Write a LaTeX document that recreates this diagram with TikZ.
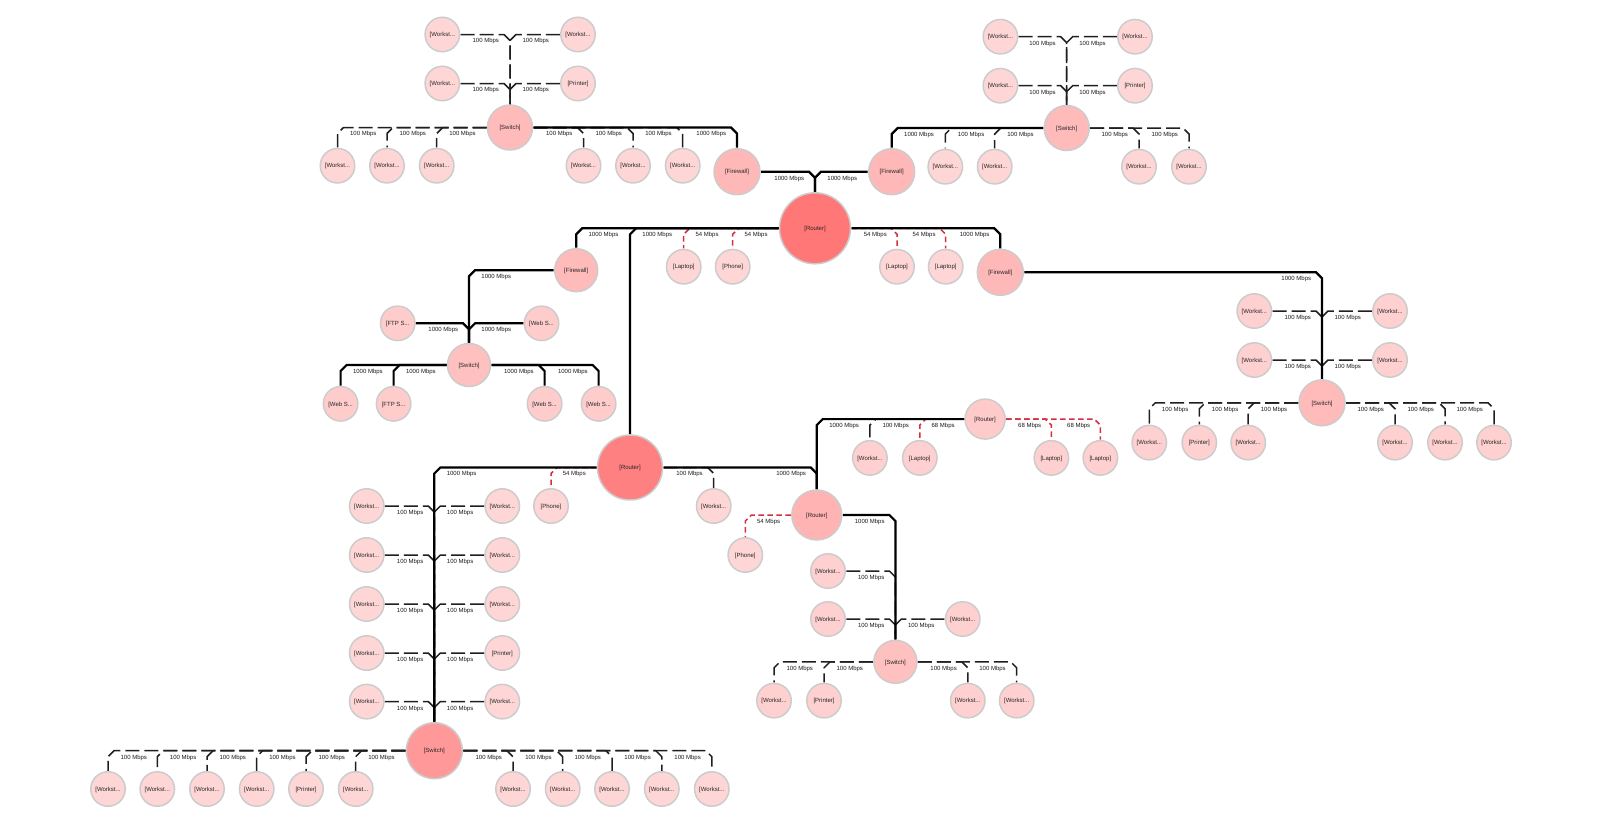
\documentclass[tikz,border=0pt]{standalone}
\usepackage{fontspec}
\setmainfont{Liberation Sans}
\usetikzlibrary{calc}
\definecolor{leaf}{HTML}{FFD6D6}
\definecolor{leafb}{HTML}{FFD0D0}
\definecolor{leafc}{HTML}{FFCCCC}
\definecolor{swc}{HTML}{FFBABA}
\definecolor{swd}{HTML}{FFC0C0}
\definecolor{fwc}{HTML}{FFB8B8}
\definecolor{rmain}{HTML}{FF7777}
\definecolor{rtwo}{HTML}{FF8080}
\definecolor{swbig}{HTML}{FF9999}
\definecolor{rthree}{HTML}{FFB3B3}
\definecolor{rfour}{HTML}{FFCACA}
\definecolor{edge}{HTML}{CCCCCC}
\definecolor{redl}{HTML}{D32F3F}
\newcounter{lblno}
\tikzset{
  dev/.style={circle,draw=edge,line width=1.5pt,inner sep=0pt,outer sep=1pt,text=black!85,text height=5.8pt,text depth=1.3pt,font=\fontsize{6}{7}\selectfont},
  lf/.style={dev,fill=leaf,minimum size=34.5pt},
  lfb/.style={dev,fill=leafb,minimum size=34.5pt},
  lfc/.style={dev,fill=leafc,minimum size=34.5pt},
  lab/.style={inner sep=0pt,text=black!90,font=\fontsize{6}{7}\selectfont},
  fastl/.style={black!88,line width=1.5pt,dash pattern=on 14pt off 5pt},
  gigl/.style={black,line width=2.2pt,line join=miter},
  redlink/.style={redl,line width=1.5pt,dash pattern=on 5.5pt off 3.5pt},
}
\newcommand\conn[6]{%
  \draw[#4] (#1) -- ($(#1 -| #2)+({#3*6},0)$) -- ($(#1 -| #2)+(0,6)$) -- (#2);
  \stepcounter{lblno}%
  \node[lab] (lbl\arabic{lblno}) at ($(#1 -| #2)+({#3*#6+0.8},6.9)$) {#5};
}
\newcommand\hund[3]{\conn{#1}{#2}{#3}{fastl}{100 Mbps}{25}}
\newcommand\gig[3]{\conn{#1}{#2}{#3}{gigl}{1000 Mbps}{26.5}}
\newcommand\fif[3]{\conn{#1}{#2}{#3}{redlink}{54 Mbps}{22.5}}
\newcommand\sixt[3]{\conn{#1}{#2}{#3}{redlink}{68 Mbps}{22.5}}
\begin{document}
\begin{tikzpicture}[x=1pt,y=-1pt]
\useasboundingbox (0,0) rectangle (1599,836);
% top-left group
\node[lf] (a1) at (442.3,34.5) {[Workst...};
\node[lf] (a2) at (578,34.5) {[Workst...};
\node[lf] (a3) at (442.3,83.5) {[Workst...};
\node[lf] (a4) at (578,83.5) {[Printer]};
\node[dev,fill=swc,minimum size=45pt] (asw) at (510,127.5) {[Switch]};
\node[lf] (a5) at (337.5,165.7) {[Workst...};
\node[lf] (a6) at (387,165.7) {[Workst...};
\node[lf] (a7) at (436.7,165.7) {[Workst...};
\node[lf] (a8) at (583.5,165.7) {[Workst...};
\node[lf] (a9) at (633,165.7) {[Workst...};
\node[lf] (a10) at (682.7,165.7) {[Workst...};
\node[dev,fill=fwc,minimum size=46pt] (afw) at (737,171.7) {[Firewall]};
% top-right group
\node[lf] (b1) at (1000.4,36.7) {[Workst...};
\node[lf] (b2) at (1135,36.7) {[Workst...};
\node[lf] (b3) at (1000.4,85.7) {[Workst...};
\node[lf] (b4) at (1135,85.7) {[Printer]};
\node[dev,fill=swc,minimum size=45pt] (bsw) at (1066.7,128) {[Switch]};
\node[lf] (b5) at (945.3,166.7) {[Workst...};
\node[lf] (b6) at (994.7,166.7) {[Workst...};
\node[lf] (b7) at (1139,166.7) {[Workst...};
\node[lf] (b8) at (1189,166.7) {[Workst...};
\node[dev,fill=fwc,minimum size=46pt] (bfw) at (891.7,171.7) {[Firewall]};
% main router
\node[dev,fill=rmain,minimum size=71pt] (rm) at (815,228.3) {[Router]};
\node[lf] (m1) at (683.7,266.7) {[Laptop]};
\node[lf] (m2) at (732.7,266.7) {[Phone]};
\node[lf] (m3) at (897,266.7) {[Laptop]};
\node[lf] (m4) at (945.7,266.7) {[Laptop]};
\node[dev,fill=fwc,minimum size=46pt] (cfw) at (1000.3,272.3) {[Firewall]};
\node[dev,fill=swc,minimum size=43pt] (dfw) at (576.2,270.2) {[Firewall]};
% web group
\node[lfc] (d1) at (397.7,323.3) {[FTP S...};
\node[lfc] (d2) at (541.5,323.3) {[Web S...};
\node[dev,fill=swd,minimum size=43pt] (dsw) at (469,365) {[Switch]};
\node[lfc] (d3) at (340.6,403.8) {[Web S...};
\node[lfc] (d4) at (393.6,403.8) {[FTP S...};
\node[lfc] (d5) at (544.6,403.8) {[Web S...};
\node[lfc] (d6) at (598.6,403.8) {[Web S...};
% right group
\node[lfb] (c1) at (1254.3,311) {[Workst...};
\node[lfb] (c2) at (1390,311) {[Workst...};
\node[lfb] (c3) at (1254.3,360) {[Workst...};
\node[lfb] (c4) at (1390,360) {[Workst...};
\node[dev,fill=swc,minimum size=46pt] (csw) at (1322,402.8) {[Switch]};
\node[lfb] (c5) at (1149.3,442.6) {[Workst...};
\node[lfb] (c6) at (1199.3,442.6) {[Printer]};
\node[lfb] (c7) at (1248.2,442.6) {[Workst...};
\node[lfb] (c8) at (1395,442.6) {[Workst...};
\node[lfb] (c9) at (1445,442.6) {[Workst...};
\node[lfb] (c10) at (1494,442.6) {[Workst...};
% router two
\node[dev,fill=rtwo,minimum size=65pt] (rt) at (630,467.5) {[Router]};
\node[lf] (e1) at (551,506) {[Phone]};
\node[lf] (e2) at (713.7,506) {[Workst...};
\node[dev,fill=rthree,minimum size=50pt] (rh) at (816.8,515) {[Router]};
\node[lf] (e3) at (745.3,555) {[Phone]};
\node[dev,fill=rfour,minimum size=40pt] (rf) at (985.1,419.1) {[Router]};
\node[lfb] (f1) at (869.9,457.9) {[Workst...};
\node[lfb] (f2) at (919.8,457.9) {[Laptop]};
\node[lfb] (f3) at (1051.4,457.9) {[Laptop]};
\node[lfb] (f4) at (1100.4,457.9) {[Laptop]};
% router three subtree
\node[lfb] (g1) at (828,571) {[Workst...};
\node[lfb] (g2) at (828,619) {[Workst...};
\node[lfb] (g3) at (962.7,619) {[Workst...};
\node[dev,fill=swd,minimum size=43pt] (gsw) at (895.4,661.8) {[Switch]};
\node[lfb] (g4) at (774,700.6) {[Workst...};
\node[lfb] (g5) at (824,700.6) {[Printer]};
\node[lfb] (g6) at (967.8,700.6) {[Workst...};
\node[lfb] (g7) at (1016.7,700.6) {[Workst...};
% big switch group
\node[lf] (h1) at (366.7,506) {[Workst...};
\node[lf] (h2) at (502.3,506) {[Workst...};
\node[lf] (h3) at (366.7,555) {[Workst...};
\node[lf] (h4) at (502.3,555) {[Workst...};
\node[lf] (h5) at (366.7,604) {[Workst...};
\node[lf] (h6) at (502.3,604) {[Workst...};
\node[lf] (h7) at (366.7,653) {[Workst...};
\node[lf] (h8) at (502.3,653) {[Printer]};
\node[lf] (h9) at (366.7,701.6) {[Workst...};
\node[lf] (h10) at (502.3,701.6) {[Workst...};
\node[dev,fill=swbig,minimum size=56pt] (hsw) at (434.3,750.7) {[Switch]};
\node[lf] (i1) at (108,789) {[Workst...};
\node[lf] (i2) at (157.3,789) {[Workst...};
\node[lf] (i3) at (207,789) {[Workst...};
\node[lf] (i4) at (256.7,789) {[Workst...};
\node[lf] (i5) at (306,789) {[Printer]};
\node[lf] (i6) at (355.7,789) {[Workst...};
\node[lf] (i7) at (513,789) {[Workst...};
\node[lf] (i8) at (562.7,789) {[Workst...};
\node[lf] (i9) at (612,789) {[Workst...};
\node[lf] (i10) at (661.8,789) {[Workst...};
\node[lf] (i11) at (711.8,789) {[Workst...};
% 100 Mbps links
\hund{a1.east}{asw.north}{-1}\hund{a2.west}{asw.north}{1}
\hund{a3.east}{asw.north}{-1}\hund{a4.west}{asw.north}{1}
\hund{asw.west}{a5.north}{1}\hund{asw.west}{a6.north}{1}\hund{asw.west}{a7.north}{1}
\hund{asw.east}{a8.north}{-1}\hund{asw.east}{a9.north}{-1}\hund{asw.east}{a10.north}{-1}
\hund{b1.east}{bsw.north}{-1}\hund{b2.west}{bsw.north}{1}
\hund{b3.east}{bsw.north}{-1}\hund{b4.west}{bsw.north}{1}
\hund{bsw.west}{b5.north}{1}\hund{bsw.west}{b6.north}{1}
\hund{bsw.east}{b7.north}{-1}\hund{bsw.east}{b8.north}{-1}
\hund{c1.east}{csw.north}{-1}\hund{c2.west}{csw.north}{1}
\hund{c3.east}{csw.north}{-1}\hund{c4.west}{csw.north}{1}
\hund{csw.west}{c5.north}{1}\hund{csw.west}{c6.north}{1}\hund{csw.west}{c7.north}{1}
\hund{csw.east}{c8.north}{-1}\hund{csw.east}{c9.north}{-1}\hund{csw.east}{c10.north}{-1}
\hund{rt.east}{e2.north}{-1}
\hund{rf.west}{f1.north}{1}
\hund{g1.east}{gsw.north}{-1}\hund{g2.east}{gsw.north}{-1}\hund{g3.west}{gsw.north}{1}
\hund{gsw.west}{g4.north}{1}\hund{gsw.west}{g5.north}{1}
\hund{gsw.east}{g6.north}{-1}\hund{gsw.east}{g7.north}{-1}
\hund{h1.east}{hsw.north}{-1}\hund{h2.west}{hsw.north}{1}
\hund{h3.east}{hsw.north}{-1}\hund{h4.west}{hsw.north}{1}
\hund{h5.east}{hsw.north}{-1}\hund{h6.west}{hsw.north}{1}
\hund{h7.east}{hsw.north}{-1}\hund{h8.west}{hsw.north}{1}
\hund{h9.east}{hsw.north}{-1}\hund{h10.west}{hsw.north}{1}
\hund{hsw.west}{i1.north}{1}\hund{hsw.west}{i2.north}{1}\hund{hsw.west}{i3.north}{1}
\hund{hsw.west}{i4.north}{1}\hund{hsw.west}{i5.north}{1}\hund{hsw.west}{i6.north}{1}
\hund{hsw.east}{i7.north}{-1}\hund{hsw.east}{i8.north}{-1}\hund{hsw.east}{i9.north}{-1}
\hund{hsw.east}{i10.north}{-1}\hund{hsw.east}{i11.north}{-1}
% wireless links
\fif{rm.west}{m1.north}{1}\fif{rm.west}{m2.north}{1}
\fif{rm.east}{m3.north}{-1}\fif{rm.east}{m4.north}{-1}
\fif{rt.west}{e1.north}{1}
\fif{rh.west}{e3.north}{1}
\sixt{rf.west}{f2.north}{1}
\sixt{rf.east}{f3.north}{-1}\sixt{rf.east}{f4.north}{-1}
% 1000 Mbps links
\gig{asw.east}{afw.north}{-1}
\gig{bsw.west}{bfw.north}{1}
\gig{afw.east}{rm.north}{-1}
\gig{bfw.west}{rm.north}{1}
\gig{rm.west}{dfw.north}{1}
\gig{rm.west}{rt.north}{1}
\gig{rm.east}{cfw.north}{-1}
\gig{cfw.east}{csw.north}{-1}
\gig{dfw.west}{dsw.north}{1}
\gig{d1.east}{dsw.north}{-1}
\gig{d2.west}{dsw.north}{1}
\gig{dsw.west}{d3.north}{1}\gig{dsw.west}{d4.north}{1}
\gig{dsw.east}{d5.north}{-1}\gig{dsw.east}{d6.north}{-1}
\gig{rt.west}{hsw.north}{1}
\gig{rt.east}{rh.north}{-1}
\gig{rf.west}{rh.north}{1}
\gig{rh.east}{gsw.north}{-1}
\end{tikzpicture}
\end{document}
